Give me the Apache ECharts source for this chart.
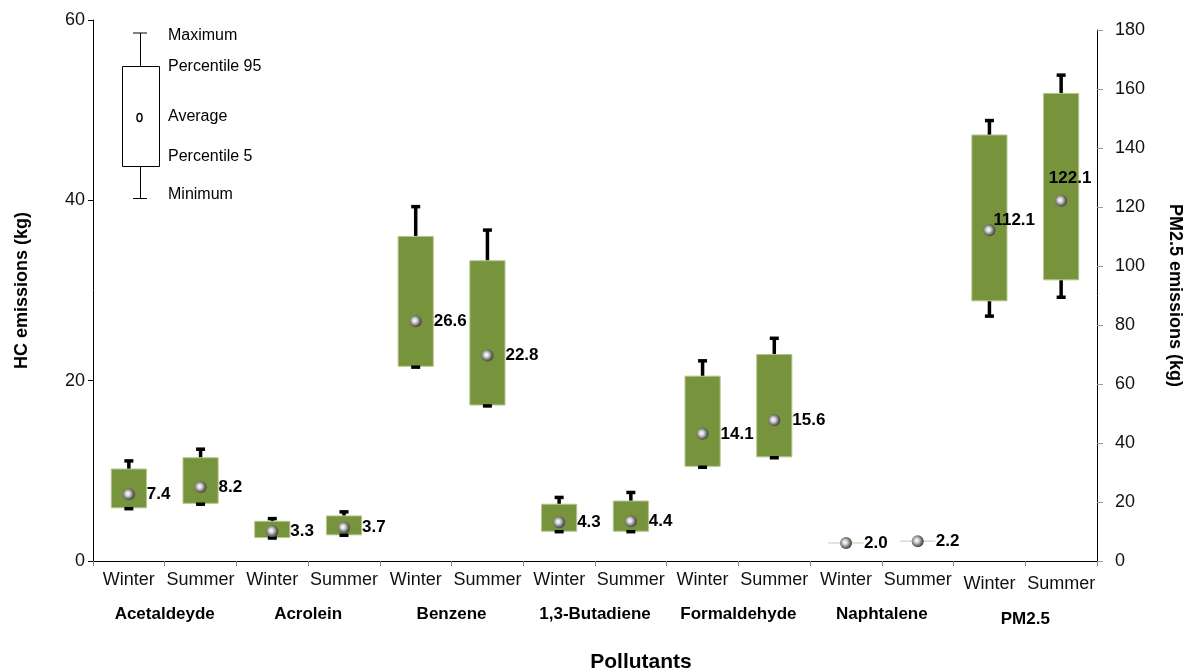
<!DOCTYPE html>
<html>
<head>
<meta charset="utf-8">
<title>HC and PM2.5 emissions</title>
<script src="https://cdn.jsdelivr.net/npm/echarts@6/dist/echarts.min.js"></script>
<style>
  html, body { margin: 0; padding: 0; background: #ffffff; }
  #chart { width: 1196px; height: 672px; }
</style>
</head>
<body>
<div id="chart"></div>
<script>
// Season columns along the x axis and the pollutant groups beneath them
const seasons = ['Winter', 'Summer', 'Winter', 'Summer', 'Winter', 'Summer', 'Winter', 'Summer',
                 'Winter', 'Summer', 'Winter', 'Summer', 'Winter', 'Summer'];
const pollutants = ['Acetaldeyde', 'Acrolein', 'Benzene', '1,3-Butadiene', 'Formaldehyde', 'Naphtalene', 'PM2.5'];

// Hydrocarbon emissions (kg), one value per season column (first 12 columns)
const hcMin = [5.8, 6.3, 2.55, 2.85, 21.5, 17.2, 3.25, 3.25, 10.4, 11.45, null, null];
const hcP5  = [5.9, 6.4, 2.6, 2.9, 21.6, 17.3, 3.3, 3.3, 10.5, 11.55, 2.0, 2.2];
const hcAvg = [7.4, 8.2, 3.3, 3.7, 26.6, 22.8, 4.3, 4.4, 14.1, 15.6, 2.0, 2.2];
const hcP95 = [10.2, 11.45, 4.4, 5.0, 36.0, 33.3, 6.3, 6.65, 20.5, 22.9, 2.0, 2.2];
const hcMax = [11.1, 12.4, 4.7, 5.45, 39.3, 36.7, 7.05, 7.6, 22.2, 24.7, null, null];

// PM2.5 emissions (kg), last two season columns
const pmMin = [83.0, 89.4];
const pmP5  = [88.2, 95.3];
const pmAvg = [112.1, 122.1];
const pmP95 = [144.4, 158.5];
const pmMax = [149.3, 164.7];

// y axis ticks
const hcTicks = { min: 0, max: 60, interval: 20 };
const pmTicks = { min: 0, max: 180, interval: 20 };

const FONT = '"Liberation Sans", Arial, Helvetica, sans-serif';
const BOX_GREEN = '#77933c';
const PM_FIRST_COLUMN = 12;

// rows for the custom box series: [column, p5, p95, min, max]
function boxRows(offset, mins, p5s, p95s, maxs) {
  return p5s.map((v, i) => [offset + i, v, p95s[i], mins[i] == null ? NaN : mins[i], maxs[i] == null ? NaN : maxs[i]]);
}

function renderBox(params, api) {
  const x = api.value(0);
  const p5 = api.value(1), p95 = api.value(2), mn = api.value(3), mx = api.value(4);
  const half = api.size([1, 0])[0] * 0.245;
  const lo = api.coord([x, p5]);
  const hi = api.coord([x, p95]);
  const cx = lo[0];
  const children = [];
  const capW = 9, capH = 3.5;

  if (!isNaN(mx)) {
    const top = api.coord([x, mx]);
    children.push({ type: 'line', shape: { x1: cx, y1: hi[1], x2: cx, y2: top[1] },
      style: { stroke: '#000', lineWidth: 3.5 } });
    children.push({ type: 'rect', shape: { x: cx - capW / 2, y: top[1] - capH / 2, width: capW, height: capH },
      style: { fill: '#000' } });
  }
  if (!isNaN(mn)) {
    const bot = api.coord([x, mn]);
    children.push({ type: 'line', shape: { x1: cx, y1: lo[1], x2: cx, y2: bot[1] },
      style: { stroke: '#000', lineWidth: 3.5 } });
  }
  if (Math.abs(lo[1] - hi[1]) < 1) {
    // flat range: only the box outline shows as a thin line
    children.push({ type: 'line', shape: { x1: cx - half, y1: lo[1], x2: cx + half, y2: lo[1] },
      style: { stroke: '#c2caa6', lineWidth: 1 } });
  } else {
    children.push({ type: 'rect',
      shape: { x: cx - half, y: hi[1], width: half * 2, height: lo[1] - hi[1] },
      style: { fill: BOX_GREEN, stroke: '#b4c48e', lineWidth: 1 } });
  }
  if (!isNaN(mn)) {
    const bot = api.coord([x, mn]);
    children.push({ type: 'rect', shape: { x: cx - capW / 2, y: bot[1] - capH / 2, width: capW, height: capH },
      style: { fill: '#000' } });
  }
  return { type: 'group', children };
}

const sphere = {
  type: 'radial', x: 0.42, y: 0.45, r: 0.6,
  colorStops: [
    { offset: 0, color: '#ffffff' },
    { offset: 0.3, color: '#d8d8d8' },
    { offset: 0.7, color: '#707070' },
    { offset: 1, color: '#3a3a3a' }
  ]
};

const valueLabel = {
  show: true, position: 'right', distance: 12,
  fontFamily: FONT, fontSize: 17, fontWeight: 'bold', color: '#000',
  textBorderWidth: 0,
  formatter: p => p.value[1].toFixed(1)
};

const chart = echarts.init(document.getElementById('chart'), null, { renderer: 'canvas' });

// key drawn in the top-left corner of the plot
const keyStroke = { stroke: '#000', lineWidth: 1, fill: 'none' };
const keyText = (y, text) => ({
  type: 'text',
  style: { x: 168, y, text, fontFamily: FONT, fontSize: 16, fill: '#000', verticalAlign: 'middle', align: 'left' }
});

const option = {
  animation: false,
  backgroundColor: '#ffffff',
  textStyle: { fontFamily: FONT },
  grid: [
    { left: 93, right: 99, top: 20, bottom: 111, containLabel: false, outerBoundsMode: 'none' },
    { left: 93, right: 99, top: 30, bottom: 111, containLabel: false, outerBoundsMode: 'none' }
  ],
  xAxis: [
    {
      type: 'category', gridIndex: 0, data: seasons, boundaryGap: true,
      axisLine: { lineStyle: { color: '#000', width: 1 } },
      axisTick: { show: true, interval: 0, length: 5, lineStyle: { color: '#888' } },
      axisLabel: {
        interval: 0, margin: 10, fontFamily: FONT, fontSize: 18, color: '#111',
        formatter: (v, i) => (i >= PM_FIRST_COLUMN ? '{pm|' + v + '}' : v),
        rich: { pm: { fontFamily: FONT, fontSize: 18, color: '#111', padding: [4, 0, 0, 0] } }
      },
      splitLine: { show: false },
      name: 'Pollutants', nameLocation: 'middle', nameGap: 91,
      nameTextStyle: { fontFamily: FONT, fontSize: 21, fontWeight: 'bold', color: '#000', padding: [0, 0, 0, 92] }
    },
    {
      type: 'category', gridIndex: 0, data: pollutants, position: 'bottom', offset: 37,
      axisLine: { show: false }, axisTick: { show: false }, splitLine: { show: false },
      axisLabel: {
        interval: 0, margin: 8, fontFamily: FONT, fontSize: 17, fontWeight: 'bold', color: '#000',
        formatter: v => (v === 'PM2.5' ? '{pm|' + v + '}' : v),
        rich: { pm: { fontFamily: FONT, fontSize: 17, fontWeight: 'bold', color: '#000', padding: [5, 0, 0, 0] } }
      }
    },
    {
      type: 'category', gridIndex: 1, data: seasons, show: false, boundaryGap: true
    }
  ],
  yAxis: [
    {
      type: 'value', gridIndex: 0, position: 'left',
      min: hcTicks.min, max: hcTicks.max, interval: hcTicks.interval,
      axisLine: { show: true, lineStyle: { color: '#000', width: 1 } },
      axisTick: { show: true, length: 5, lineStyle: { color: '#000' } },
      axisLabel: { margin: 8, fontFamily: FONT, fontSize: 18, color: '#111' },
      splitLine: { show: false },
      name: 'HC emissions (kg)', nameLocation: 'middle', nameGap: 62, nameRotate: 90,
      nameTextStyle: { fontFamily: FONT, fontSize: 18, fontWeight: 'bold', color: '#000' }
    },
    {
      type: 'value', gridIndex: 1, position: 'right',
      min: pmTicks.min, max: pmTicks.max, interval: pmTicks.interval,
      axisLine: { show: true, lineStyle: { color: '#000', width: 1 } },
      axisTick: { show: true, length: 6, lineStyle: { color: '#999' } },
      axisLabel: { margin: 18, fontFamily: FONT, fontSize: 18, color: '#111' },
      splitLine: { show: false },
      name: 'PM2.5 emissions (kg)', nameLocation: 'middle', nameGap: 69, nameRotate: -90,
      nameTextStyle: { fontFamily: FONT, fontSize: 18, fontWeight: 'bold', color: '#000' }
    }
  ],
  series: [
    {
      name: 'HC range', type: 'custom', xAxisIndex: 0, yAxisIndex: 0,
      renderItem: renderBox, encode: { x: 0, y: [1, 2, 3, 4] }, z: 2,
      data: boxRows(0, hcMin, hcP5, hcP95, hcMax)
    },
    {
      name: 'PM2.5 range', type: 'custom', xAxisIndex: 2, yAxisIndex: 1,
      renderItem: renderBox, encode: { x: 0, y: [1, 2, 3, 4] }, z: 2,
      data: boxRows(PM_FIRST_COLUMN, pmMin, pmP5, pmP95, pmMax)
    },
    {
      name: 'HC average', type: 'scatter', xAxisIndex: 0, yAxisIndex: 0, z: 5,
      symbol: 'circle', symbolSize: 12, itemStyle: { color: sphere, opacity: 1 },
      label: valueLabel,
      data: hcAvg.map((v, i) => [i, v])
    },
    {
      name: 'PM2.5 average', type: 'scatter', xAxisIndex: 2, yAxisIndex: 1, z: 5,
      symbol: 'circle', symbolSize: 12, itemStyle: { color: sphere, opacity: 1 },
      label: valueLabel,
      data: [
        { value: [PM_FIRST_COLUMN, pmAvg[0]], label: { position: 'right', distance: -2, offset: [0, -10] } },
        { value: [PM_FIRST_COLUMN + 1, pmAvg[1]], label: { position: 'top', distance: 8, offset: [9, 0] } }
      ]
    }
  ],
  graphic: [
    { type: 'line', shape: { x1: 133, y1: 33, x2: 147, y2: 33 }, style: keyStroke },
    { type: 'line', shape: { x1: 140.5, y1: 33, x2: 140.5, y2: 66 }, style: keyStroke },
    { type: 'rect', shape: { x: 122.5, y: 66.5, width: 37, height: 100 }, style: { stroke: '#000', lineWidth: 1, fill: '#fff' } },
    { type: 'ellipse', shape: { cx: 139.5, cy: 117.5, rx: 2.5, ry: 4 }, style: { stroke: '#000', lineWidth: 1.5, fill: '#fff' } },
    { type: 'line', shape: { x1: 140.5, y1: 166.5, x2: 140.5, y2: 198.5 }, style: keyStroke },
    { type: 'line', shape: { x1: 133, y1: 198.5, x2: 147, y2: 198.5 }, style: keyStroke },
    keyText(36, 'Maximum'),
    keyText(67, 'Percentile 95'),
    keyText(117, 'Average'),
    keyText(157, 'Percentile 5'),
    keyText(195, 'Minimum')
  ]
};

chart.setOption(option);
</script>
</body>
</html>
